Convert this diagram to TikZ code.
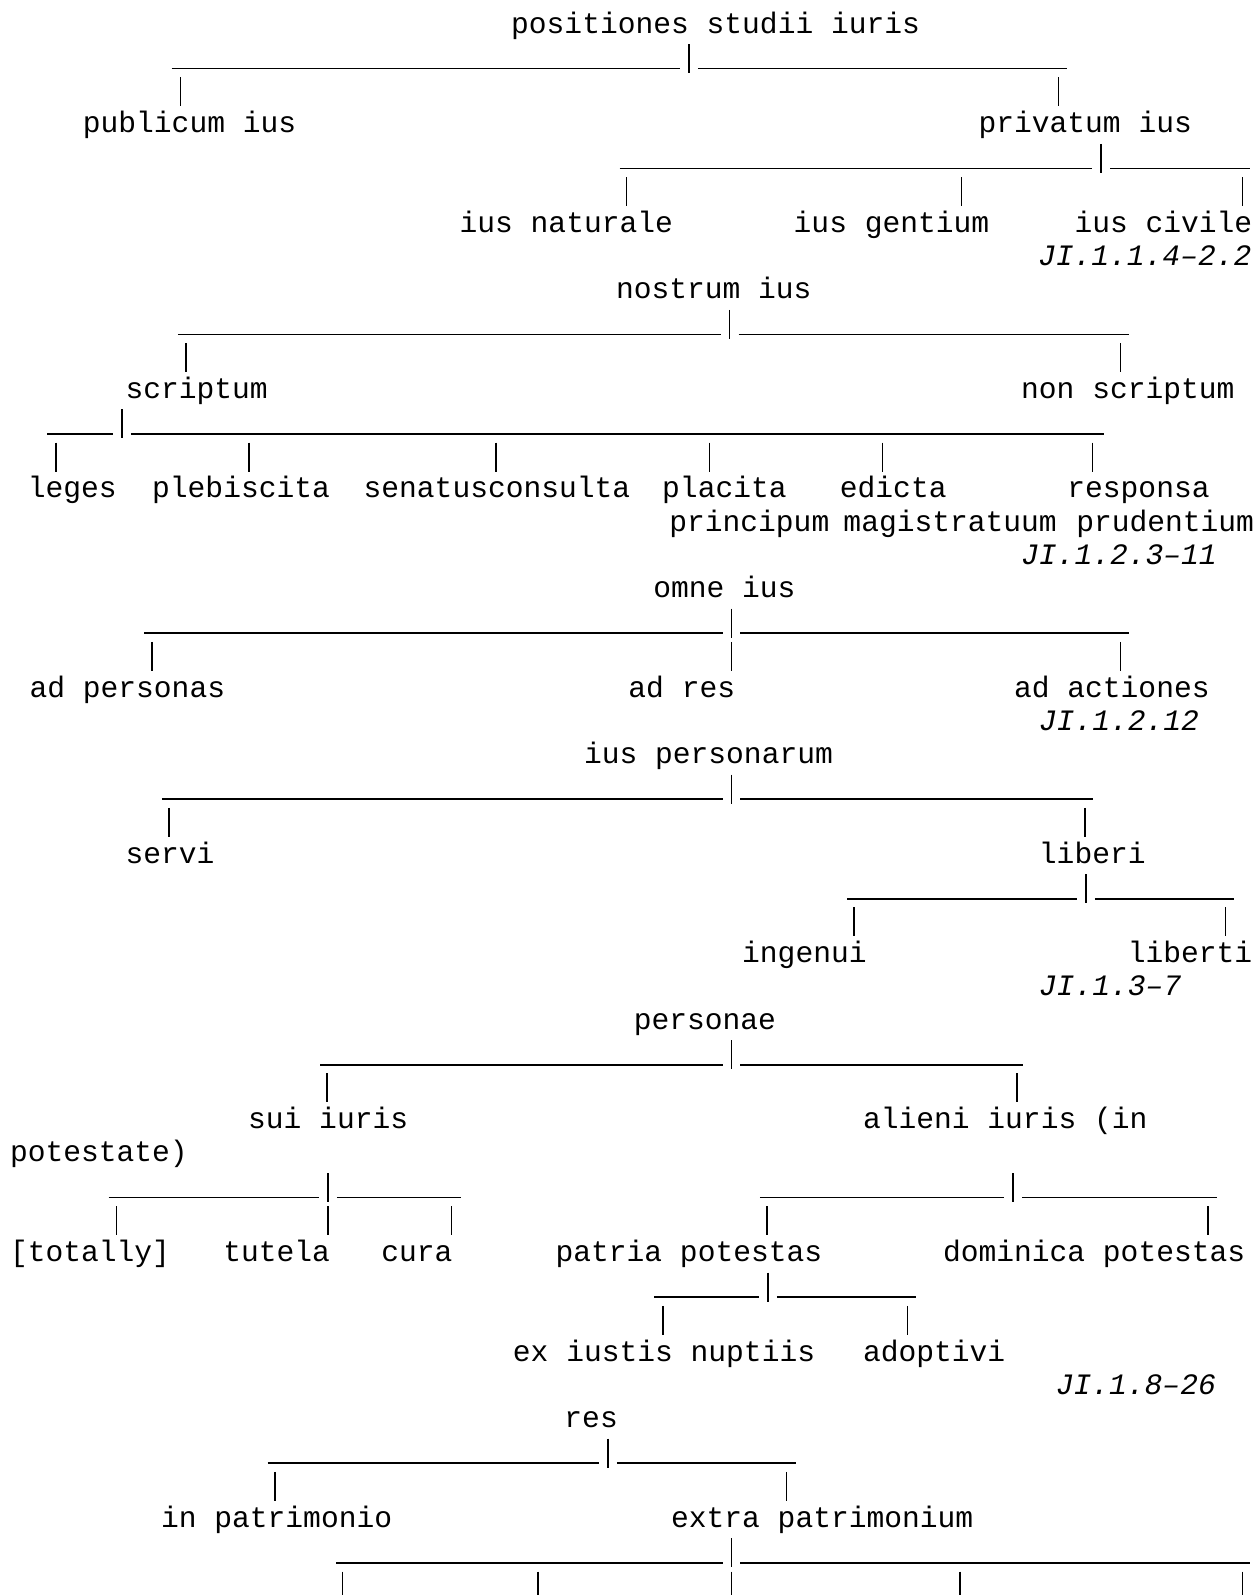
\documentclass[tikz,border=0pt]{standalone}
\usepackage{fontspec}
\setmonofont{Liberation Mono}
\usepackage{tikz}
\usetikzlibrary{positioning}

\begin{document}
\begin{tikzpicture}[
    x=8.885pt, y=-16.6pt,
    term/.style={
        anchor=base west,
        inner sep=0pt,
        outer sep=0pt,
        font=\ttfamily\fontsize{14.81pt}{16.6pt}\selectfont,
        text=black
    },
    source/.style={
        term,
        font=\ttfamily\itshape\fontsize{14.81pt}{16.6pt}\selectfont
    },
    pipe/.style={
        line width=0.75pt,
        black
    }
]
\useasboundingbox (-0.563,-0.994) rectangle (70.175,47.045);

% positiones studii iuris
\node[term] at (28.2,0) (studii) {positiones studii iuris};
\node[term] at (4.1,3) (publicum) {publicum ius};
\node[term] at (54.5,3) (privatum) {privatum ius};
\node[term] at (25.3,6) (naturale) {ius naturale};
\node[term] at (44.1,6) (gentium) {ius gentium};
\node[term] at (59.9,6) (civile) {ius civile};
\node[source] at (57.85,7) (src1) {JI.1.1.4–2.2};

% nostrum ius
\node[term] at (34.1,8) (nostrum) {nostrum ius};
\node[term] at (6.5,11) (scriptum) {scriptum};
\node[term] at (56.9,11) (nonscriptum) {non scriptum};
\node[term] at (1.0,14) (leges) {leges};
\node[term] at (8.0,14) (plebiscita) {plebiscita};
\node[term] at (19.9,14) (senatus) {senatusconsulta};
\node[term] at (36.7,14) (placita) {placita};
\node[term] at (46.7,14) (edicta) {edicta};
\node[term] at (59.5,14) (responsa) {responsa};
\node[term] at (37.1,15) (principum) {principum};
\node[term] at (46.9,15) (magistratuum) {magistratuum};
\node[term] at (60.0,15) (prudentium) {prudentium};
\node[source] at (56.9,16) (src2) {JI.1.2.3–11};

% omne ius
\node[term] at (36.2,17) (omne) {omne ius};
\node[term] at (1.1,20) (adpersonas) {ad personas};
\node[term] at (34.8,20) (adres) {ad res};
\node[term] at (56.5,20) (adactiones) {ad actiones};
\node[source] at (57.9,21) (src3) {JI.1.2.12};

% ius personarum
\node[term] at (32.3,22) (personarum) {ius personarum};
\node[term] at (6.5,25) (servi) {servi};
\node[term] at (57.9,25) (liberi) {liberi};
\node[term] at (41.2,28) (ingenui) {ingenui};
\node[term] at (62.9,28) (liberti) {liberti};
\node[source] at (57.9,29) (src4) {JI.1.3–7};

% personae
\node[term] at (35.1,30) (personae) {personae};
\node[term] at (13.4,33) (sui) {sui iuris};
\node[term] at (48.0,33) (alieni) {alieni iuris (in};
\node[term] at (0,34) (potestate) {potestate)};
\node[term] at (0,37) (totally) {[totally]};
\node[term] at (12.0,37) (tutela) {tutela};
\node[term] at (20.9,37) (cura) {cura};
\node[term] at (30.7,37) (patria) {patria potestas};
\node[term] at (52.5,37) (dominica) {dominica potestas};
\node[term] at (28.3,40) (nuptiis) {ex iustis nuptiis};
\node[term] at (48.0,40) (adoptivi) {adoptivi};
\node[source] at (58.85,41) (src5) {JI.1.8–26};

% res
\node[term] at (31.2,42) (res) {res};
\node[term] at (8.5,45) (inpatrimonio) {in patrimonio};
\node[term] at (37.2,45) (extra) {extra patrimonium};

% forks: name/row/left end/stub cell/right end
\foreach \nm/\row/\lft/\stub/\rgt in {
    fa/1/9.1/37.7/59.5, fb/4/34.3/60.9/69.8,
    fc/9/9.45/40.0/62.95, fd/12/2.1/5.8/61.55,
    fe/18/7.55/40.1/62.95, ff/23/8.55/40.1/60.95,
    fg/26/47.1/60.05/68.85, fh/31/17.45/40.1/57.0,
    fi/35/5.55/17.4/25.35, fj/35/42.2/55.95/67.9,
    fk/38/36.25/42.15/51.0, fl/43/14.5/33.15/44.25,
    fm/46/18.35/40.1/69.8} {
    \coordinate (\nm-a) at (\lft,\row+0.075);
    \coordinate (\nm-b) at (\stub,\row+0.075);
    \coordinate (\nm-c) at (\stub+1,\row+0.075);
    \coordinate (\nm-d) at (\rgt,\row+0.075);
    \coordinate (\nm-up) at (\stub+0.5,\row-0.663);
    \coordinate (\nm-dn) at (\stub+0.5,\row+0.211);
    \draw[pipe] (\nm-a) -- (\nm-b) (\nm-c) -- (\nm-d);
    \draw[pipe] (\nm-up) -- (\nm-dn);
}

% branches down to each child
\foreach \nm/\row/\col in {
    publ/2/9.1, priv/2/58.5,
    natu/5/34.2, gent/5/53.05, civi/5/68.85,
    scri/10/9.4, nons/10/62.0,
    lege/13/2.1, pleb/13/12.95, sena/13/26.85, plac/13/38.85, edic/13/48.6, resp/13/60.4,
    pers/19/7.5, ares/19/40.1, actn/19/62.0,
    serv/24/8.45, libe/24/60.0,
    inge/27/47.0, libt/27/67.9,
    suiu/32/17.35, alie/32/56.15,
    tota/36/5.5, tute/36/17.4, cura/36/24.35, patr/36/42.1, domi/36/66.9,
    nupt/39/36.25, adop/39/50.0,
    inpa/44/14.4, expa/44/43.2,
    ra/47/18.2, rb/47/29.2, rc/47/40.1, rd/47/52.95, re/47/68.85} {
    \coordinate (\nm-up) at (\col+0.5,\row-0.663);
    \coordinate (\nm-dn) at (\col+0.5,\row+0.211);
    \draw[pipe] (\nm-up) -- (\nm-dn);
}
\end{tikzpicture}
\end{document}
